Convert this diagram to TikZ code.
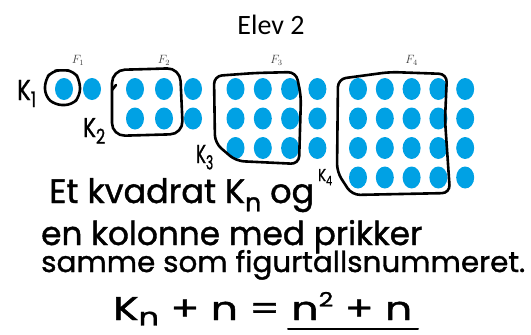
\documentclass[tikz,border=0pt]{standalone}
\usepackage{fontspec}
\setmainfont{Carlito}
\newfontfamily\handfont{Poppins}[FakeBold=1.2]
\usetikzlibrary{shapes.geometric, positioning}

\definecolor{dotblue}{RGB}{0,161,228}
\tikzset{
  prikk/.style={ellipse, fill=dotblue, minimum width=18pt, minimum height=22pt, inner sep=0pt},
  ring/.style={line width=2.6pt, line join=round, line cap=round},
  hand/.style={inner sep=0pt, anchor=base west},
  flabel/.style={font=\fontsize{12}{12}\selectfont, text=black!75, inner sep=0pt},
}
\newcommand\lowsub[1]{\raisebox{-0.45ex}{\scalebox{0.75}{#1}}}
\newcommand\highsup[1]{\raisebox{0.75ex}{\scalebox{0.6}{#1}}}
\newcommand\handline[3]{\resizebox{#1}{#2}{\handfont #3}}

\begin{document}
\begin{tikzpicture}[x=1pt,y=-1pt]
    \useasboundingbox (0,0) rectangle (531,335);
    \node[font=\fontsize{28}{28}\selectfont, anchor=base, inner sep=0pt] (tittel) at (271,34) {Elev 2};
    % prikkene, figur n har n rader og n+1 kolonner
    \foreach \n/\x/\s in {1/64/28,2/135/29,3/235.5/27.3,4/358/26.8}{
      \pgfmathtruncatemacro\m{\n+1}
      \foreach \r in {1,...,\n}{
        \foreach \c in {1,...,\m}{
          \node[prikk] (p\n-\r-\c) at ({\x+(\c-1)*\s},{89+(\r-1)*29.5}) {};
        }
      }
      \node[flabel] (F\n) at ({\x+\n*\s/2},60) {$F_\n$};
    }
    % kvadratene
    \draw[ring, rounded corners=7pt] (62,70) -- (74,71) -- (80,81) -- (80,96) -- (72,105) -- (55,105) -- (45,96) -- (45,80) -- (52,71) -- cycle;
    \draw[ring, rounded corners=13pt] (150,69) -- (180,68) -- (183,134) -- (112,136) -- (112,70) -- cycle;
    \draw[ring] (112,90) -- (116,85);
    \draw[ring, rounded corners=8pt] (255,73) -- (296,72) -- (301,96) -- (299,164) -- (236,161) -- (215,143) -- (214,76) -- cycle;
    \draw[ring, rounded corners=8pt] (390,72) -- (447,74) -- (445,120) -- (450,193) -- (352,195) -- (337,172) -- (338,79) -- cycle;
    % navn paa kvadratene
    \node[hand] (k1) at (17,100) {\handline{19pt}{20pt}{K\lowsub{1}}};
    \node[hand] (k2) at (83,137) {\handline{22pt}{19pt}{K\lowsub{2}}};
    \node[hand] (k3) at (196,163) {\handline{17pt}{18pt}{K\lowsub{3}}};
    \node[hand] (k4) at (318,181) {\handline{14pt}{12pt}{K\lowsub{4}}};
    % teksten
    \node[hand] (linje1) at (49,203) {\handline{265pt}{25pt}{Et kvadrat K\lowsub{n} og}};
    \node[hand] (linje2) at (41,245) {\handline{381pt}{25pt}{en kolonne med prikker}};
    \node[hand] (linje3) at (41,272) {\handline{484pt}{22pt}{samme som figurtallsnummeret.}};
    \node[hand] (linje4) at (113,320) {\handline{299pt}{28pt}{K\raisebox{-0.3ex}{\scalebox{0.75}{n}} + n = n\highsup{2} + n}};
    \draw[ring, line width=2pt] (288,329) -- (418,329);
\end{tikzpicture}
\end{document}
